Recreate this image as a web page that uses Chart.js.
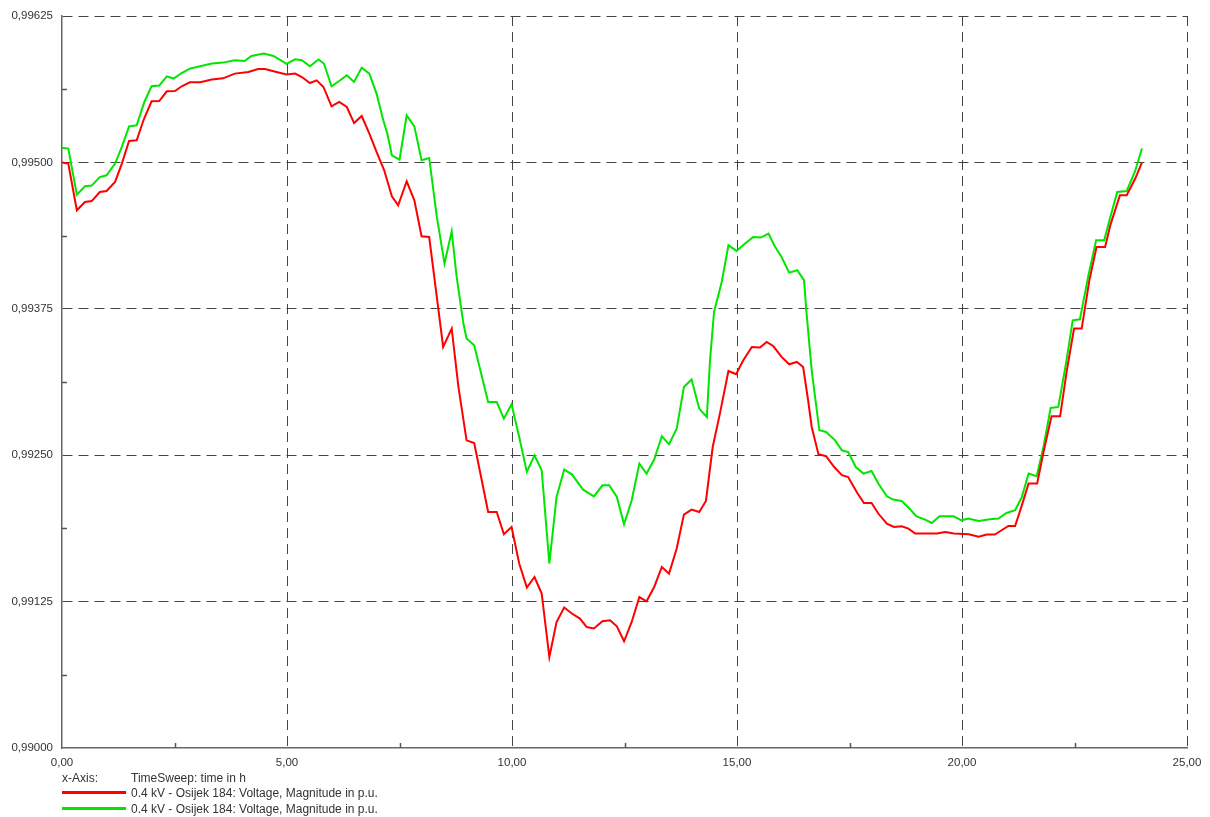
<!DOCTYPE html>
<html>
<head>
<meta charset="utf-8">
<script src="https://cdn.jsdelivr.net/npm/chart.js@4.4.0/dist/chart.umd.min.js"></script>
<style>
  body { margin: 0; background: #fff; }
  #wrap { position: relative; width: 1210px; height: 817px; }
  .lg { position: absolute; font: 12px "Liberation Sans", Arial, sans-serif; color: #333; white-space: nowrap; line-height: 14px; }
  .sw { position: absolute; height: 3px; width: 64px; }
</style>
</head>
<body>
<div id="wrap">
  <canvas id="chart" width="1210" height="817"></canvas>
  <div class="lg" style="left:62px; top:771px;">x-Axis:</div>
  <div class="lg" style="left:131px; top:771px;">TimeSweep: time in h</div>
  <div class="sw" style="left:62px; top:791px; background:#ff0000;"></div>
  <div class="lg" style="left:131px; top:786px;">0.4 kV - Osijek 184: Voltage, Magnitude in p.u.</div>
  <div class="sw" style="left:62px; top:807px; background:#00e600;"></div>
  <div class="lg" style="left:131px; top:802px;">0.4 kV - Osijek 184: Voltage, Magnitude in p.u.</div>
</div>
<script>
// time in h / voltage in p.u.
const redTime = [0,0.14,0.33,0.51,0.66,0.84,0.99,1.18,1.33,1.49,
  1.66,1.81,1.99,2.16,2.33,2.51,2.66,2.84,3.07,3.33,
  3.58,3.84,4.14,4.36,4.51,4.70,4.99,5.18,5.33,5.51,
  5.66,5.81,5.99,6.16,6.33,6.49,6.66,6.83,6.99,7.16,
  7.33,7.47,7.66,7.83,7.99,8.16,8.47,8.66,8.81,8.99,
  9.16,9.47,9.66,9.82,9.99,10.16,10.33,10.50,10.66,10.83,
  10.99,11.16,11.33,11.51,11.66,11.82,12.01,12.18,12.33,12.49,
  12.66,12.83,12.99,13.16,13.33,13.49,13.66,13.82,13.99,14.16,
  14.31,14.46,14.62,14.81,14.98,15.14,15.33,15.51,15.66,15.81,
  15.99,16.16,16.33,16.47,16.58,16.66,16.81,16.98,17.16,17.33,
  17.47,17.66,17.82,17.99,18.14,18.33,18.49,18.66,18.81,18.96,
  19.44,19.63,19.82,20.15,20.37,20.55,20.73,20.88,21.03,21.18,
  21.33,21.48,21.67,21.82,21.99,22.18,22.33,22.49,22.66,22.83,
  22.99,23.18,23.30,23.51,23.66,23.85,24.0];
const redValues = [0.99500,0.994990,0.994591,0.994662,0.994670,0.994747,0.994756,0.994833,0.994990,0.995183,
  0.995189,0.995360,0.995522,0.995524,0.995607,0.995610,0.995650,0.995684,0.995684,0.995707,
  0.995718,0.995758,0.995772,0.995798,0.995798,0.995778,0.995750,0.995758,0.995729,0.995678,
  0.995701,0.995644,0.995479,0.995516,0.995473,0.995336,0.995396,0.995246,0.995089,0.994933,
  0.994711,0.994634,0.994839,0.994676,0.994369,0.994363,0.993424,0.993581,0.993082,0.992627,
  0.992604,0.992015,0.992015,0.991825,0.991887,0.991575,0.991370,0.991460,0.991318,0.990777,
  0.991076,0.991199,0.991148,0.991105,0.991033,0.991020,0.991082,0.991090,0.991039,0.990911,
  0.991076,0.991289,0.991253,0.991375,0.991546,0.991489,0.991703,0.991993,0.992036,0.992015,
  0.992109,0.992570,0.992855,0.993219,0.993191,0.993310,0.993424,0.993419,0.993467,0.993430,
  0.993339,0.993276,0.993296,0.993253,0.992969,0.992741,0.992508,0.992491,0.992399,0.992329,
  0.992314,0.992186,0.992092,0.992092,0.992002,0.991916,0.991887,0.991893,0.991873,0.991831,
  0.991831,0.991844,0.991831,0.991825,0.991803,0.991822,0.991822,0.991859,0.991896,0.991896,
  0.992072,0.992258,0.992258,0.992542,0.992832,0.992832,0.993225,0.993581,0.993581,0.993993,
  0.994278,0.994278,0.994469,0.994719,0.994719,0.994862,0.99500];

const greenTime = [0,0.14,0.33,0.51,0.66,0.84,0.99,1.18,1.33,1.49,
  1.66,1.83,1.99,2.16,2.33,2.48,2.66,2.84,3.07,3.33,
  3.58,3.84,4.06,4.21,4.48,4.70,4.99,5.18,5.33,5.51,
  5.70,5.82,5.99,6.16,6.33,6.49,6.66,6.83,6.99,7.14,
  7.23,7.33,7.50,7.66,7.83,7.99,8.16,8.33,8.50,8.66,
  8.77,8.92,8.99,9.16,9.47,9.66,9.82,9.99,10.16,10.33,
  10.50,10.66,10.83,10.99,11.16,11.33,11.58,11.82,12.01,12.16,
  12.33,12.49,12.66,12.83,12.99,13.16,13.33,13.49,13.66,13.82,
  13.99,14.16,14.33,14.40,14.49,14.66,14.81,14.99,15.16,15.36,
  15.53,15.70,15.84,15.99,16.16,16.34,16.49,16.54,16.66,16.83,
  16.98,17.18,17.33,17.47,17.64,17.81,17.99,18.14,18.33,18.47,
  18.66,18.81,18.99,19.18,19.33,19.50,19.81,19.99,20.14,20.37,
  20.62,20.81,20.99,21.18,21.33,21.48,21.66,21.81,21.97,22.14,
  22.31,22.46,22.62,22.81,22.98,23.16,23.29,23.45,23.66,23.84,24.0];
const greenValues = [0.995126,0.995118,0.994725,0.994796,0.994802,0.994875,0.994890,0.994990,0.995132,0.995308,
  0.995317,0.995516,0.995650,0.995656,0.995735,0.995716,0.995763,0.995801,0.995821,0.995844,
  0.995852,0.995872,0.995866,0.995909,0.995929,0.995909,0.995842,0.995880,0.995872,0.995821,
  0.995878,0.995844,0.995650,0.995695,0.995744,0.995687,0.995809,0.995758,0.995587,0.995360,
  0.995246,0.995061,0.995024,0.995402,0.995308,0.995018,0.995038,0.994534,0.994136,0.994412,
  0.994022,0.993624,0.993496,0.993438,0.992954,0.992954,0.992813,0.992935,0.992656,0.992357,
  0.992499,0.992371,0.991575,0.992143,0.992377,0.992337,0.992206,0.992149,0.992243,0.992243,
  0.992143,0.991910,0.992115,0.992428,0.992343,0.992463,0.992662,0.992593,0.992727,0.993082,
  0.993146,0.992898,0.992826,0.993310,0.993723,0.993979,0.994292,0.994244,0.994301,0.994363,
  0.994358,0.994392,0.994284,0.994192,0.994059,0.994079,0.993993,0.993737,0.993225,0.992713,
  0.992698,0.992627,0.992542,0.992527,0.992399,0.992343,0.992365,0.992258,0.992149,0.992121,
  0.992109,0.992053,0.991978,0.991950,0.991921,0.991978,0.991978,0.991944,0.991959,0.991938,
  0.991953,0.991959,0.992007,0.992030,0.992143,0.992343,0.992320,0.992570,0.992903,0.992912,
  0.993282,0.993652,0.993660,0.994036,0.994335,0.994335,0.994525,0.994747,0.994756,0.994918,0.995118];

const xTicks = [0, 5, 10, 15, 20, 25];
const yTicks = [0.99, 0.99125, 0.9925, 0.99375, 0.995, 0.99625];
const xMinor = [2.5, 7.5, 12.5, 17.5, 22.5];
const yMinor = [0.990625, 0.991875, 0.993125, 0.994375, 0.995625];

const toPoints = (t, v) => t.map((x, i) => ({ x: x, y: v[i] }));
const comma = (v, d) => v.toFixed(d).replace('.', ',');

// small inner tick marks between the grid lines
const minorTicks = {
  id: 'minorTicks',
  afterDraw(chart) {
    const { ctx, chartArea: a, scales } = chart;
    ctx.save();
    ctx.strokeStyle = '#555';
    ctx.lineWidth = 1.5;
    ctx.beginPath();
    xMinor.forEach(v => {
      const px = Math.round(scales.x.getPixelForValue(v)) + 0.5;
      ctx.moveTo(px, a.bottom); ctx.lineTo(px, a.bottom - 5);
    });
    yMinor.forEach(v => {
      const py = Math.round(scales.y.getPixelForValue(v)) + 0.5;
      ctx.moveTo(a.left, py); ctx.lineTo(a.left + 5, py);
    });
    ctx.stroke();
    ctx.restore();
  }
};

const font = { family: '"Liberation Sans", Arial, sans-serif', size: 11.5 };
// no dashed grid line on top of the solid axis lines
const gridColor = ctx => ctx.index === 0 ? 'rgba(0,0,0,0)' : '#444';

new Chart(document.getElementById('chart'), {
  type: 'line',
  data: {
    datasets: [{
      label: '0.4 kV - Osijek 184: Voltage, Magnitude in p.u.',
      data: toPoints(redTime, redValues),
      borderColor: '#ff0000',
      borderWidth: 2,
      pointRadius: 0,
      tension: 0
    }, {
      label: '0.4 kV - Osijek 184: Voltage, Magnitude in p.u.',
      data: toPoints(greenTime, greenValues),
      borderColor: '#00e600',
      borderWidth: 2,
      pointRadius: 0,
      tension: 0
    }]
  },
  options: {
    responsive: false,
    animation: false,
    devicePixelRatio: 1,
    layout: { padding: { left: 0, top: 16, right: 23, bottom: 39 } },
    plugins: { legend: { display: false }, tooltip: { enabled: false } },
    scales: {
      x: {
        type: 'linear',
        min: 0, max: 25,
        afterBuildTicks: s => { s.ticks = xTicks.map(v => ({ value: v })); },
        afterFit: s => { s.height = 30; },
        ticks: { font: font, color: '#333', padding: 8, maxRotation: 0, autoSkip: false,
          callback: v => comma(v, 2) },
        grid: { color: gridColor, lineWidth: 1, drawTicks: false },
        border: { color: '#666', width: 1.5, dash: [10, 6] }
      },
      y: {
        min: 0.99, max: 0.99625,
        afterBuildTicks: s => { s.ticks = yTicks.map(v => ({ value: v })); },
        afterFit: s => { s.width = 62; },
        ticks: { font: font, color: '#333', padding: 9, autoSkip: false,
          callback: v => comma(v, 5) },
        grid: { color: gridColor, lineWidth: 1, drawTicks: false },
        border: { color: '#666', width: 1.5, dash: [10, 6] }
      }
    }
  },
  plugins: [minorTicks]
});
</script>
</body>
</html>
